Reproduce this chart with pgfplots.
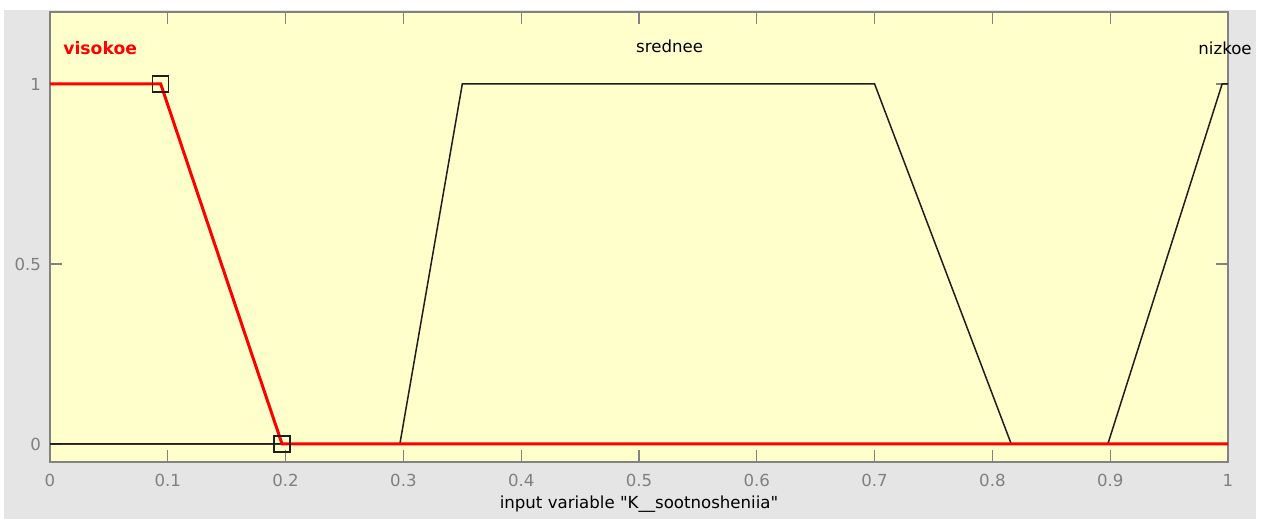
\documentclass[border=0pt]{standalone}
\usepackage{pgfplots}
\pgfplotsset{compat=1.18}
\usepackage{fontspec}
\setmainfont{DejaVu Sans}[Ligatures=TeXOff]
\definecolor{bggray}{RGB}{229,229,229}
\definecolor{axyellow}{RGB}{255,255,204}
\definecolor{framegray}{RGB}{130,130,130}
\definecolor{ticklab}{RGB}{128,128,128}
\definecolor{mfblack}{RGB}{30,30,30}
\newcommand{\lbl}{\fontsize{8.3}{10}\selectfont}
\begin{document}
\begin{tikzpicture}
\path[use as bounding box] (0,0) rectangle (632.5pt,259.5pt);
\fill[white] (0,0) rectangle (632.5pt,259.5pt);
\fill[bggray] (2pt,0) rectangle (628pt,254.5pt);
\begin{axis}[
  at={(25pt,28.5pt)}, anchor=south west,
  scale only axis, width=589pt, height=225pt,
  xmin=0, xmax=1, ymin=-0.05, ymax=1.2,
  axis background/.style={fill=axyellow},
  axis line style={framegray, line width=0.6pt},
  every tick/.style={framegray, line width=0.6pt},
  major tick length=6pt,
  tick align=inside,
  xtick={0,0.1,0.2,0.3,0.4,0.5,0.6,0.7,0.8,0.9,1},
  xticklabels={0,0.1,0.2,0.3,0.4,0.5,0.6,0.7,0.8,0.9,1},
  ytick={0,0.5,1},
  yticklabels={0,0.5,1},
  tick label style={font=\lbl, text=ticklab},
  xticklabel style={yshift=-2.5pt},
  yticklabel style={xshift=-1pt},
  xlabel={input variable "K\_\_sootnosheniia"},
  xlabel style={font=\lbl, text=black, at={(axis description cs:0.5,0)}, anchor=center, yshift=-21pt},
  clip=false,
]
% srednee
\addplot[mfblack, line width=0.75pt] coordinates {(0,0) (0.297,0) (0.350,1) (0.700,1) (0.816,0) (1,0)};
% nizkoe
\addplot[mfblack, line width=0.75pt] coordinates {(0,0) (0.898,0) (0.995,1) (1,1)};
% visokoe (selected)
\addplot[red, line width=1.5pt] coordinates {(0,1) (0.094,1) (0.197,0) (1,0)};
% parameter handles
\addplot[only marks, mark=square, mark size=4pt, mark options={mfblack, line width=0.7pt, fill=none}] coordinates {(0.094,1) (0.197,0)};
\node[font=\fontsize{8.6}{10}\selectfont\bfseries, text=red, anchor=west, inner sep=0pt] at (axis cs:0.011,1.10) {visokoe};
\node[font=\lbl, text=black] at (axis cs:0.526,1.104) {srednee};
\node[font=\lbl, text=black] at (axis cs:0.9975,1.10) {nizkoe};
\end{axis}
\end{tikzpicture}
\end{document}
